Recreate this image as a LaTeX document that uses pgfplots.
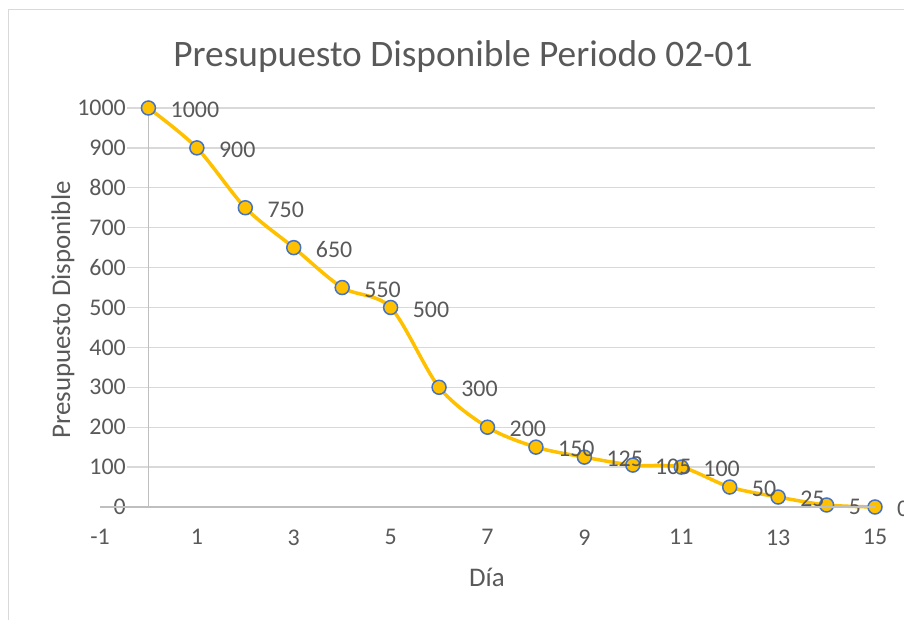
\documentclass[border=0pt]{standalone}
\usepackage{pgfplots}
\pgfplotsset{compat=1.18}
\usepackage{fontspec}
\setmainfont{Carlito}
\definecolor{txt}{HTML}{595959}
\definecolor{gridc}{HTML}{D9D9D9}
\definecolor{axc}{HTML}{BFBFBF}
\definecolor{gold}{HTML}{FFC000}
\definecolor{mblue}{HTML}{4472C4}
\definecolor{framec}{HTML}{D9D9D9}
\pgfplotstableread{
x y
0 1000
1 900
2 750
3 650
4 550
5 500
6 300
7 200
8 150
9 125
10 105
11 100
12 50
13 25
14 5
15 0
}\budget
\begin{document}
\begin{tikzpicture}[x=1bp,y=1bp]
\path[use as bounding box] (0,0) rectangle (904,620);
\draw[framec, line width=1.5bp] (8.5,0) -- (8.5,610.5) -- (904,610.5);
\node[font=\fontsize{37.5}{37.5}\selectfont, text=txt] at (463,563.5) {Presupuesto Disponible Periodo 02-01};
\node[font=\fontsize{27}{27}\selectfont, text=txt, rotate=90] at (63,310) {Presupuesto Disponible};
\node[font=\fontsize{27}{27}\selectfont, text=txt] at (487,43) {Día};
\begin{axis}[at={(100bp,113bp)}, anchor=south west, scale only axis,
  width=775bp, height=399bp,
  xmin=-1, xmax=15, ymin=0, ymax=1000,
  xtick={-1,1,...,15}, ytick={0,100,...,1000},
  ymajorgrids, major grid style={gridc, line width=1.3bp},
  axis line style={draw=none}, tick style={draw=none},
  /pgf/number format/assume math mode=true,
  /pgf/number format/1000 sep={},
  tick label style={font=\fontsize{24}{24}\selectfont, text=txt},
  yticklabel style={anchor=east, fill=white, inner sep=1bp, xshift=27bp},
  xticklabel style={yshift=-19bp},
  clip=false,
]
\draw[axc, line width=1.5bp] (axis cs:0,0) -- (axis cs:0,1000);
\addplot[gold, line width=3.5bp, smooth, mark=*, mark size=7bp,
  mark options={fill=gold, draw=mblue, line width=1.5bp}]
  table[x=x, y=y] {\budget};
\addplot[draw=none, mark=none,
  nodes near coords,
  every node near coord/.append style={font=\fontsize{24}{24}\selectfont, text=txt, anchor=west, inner sep=0pt, xshift=22bp, yshift=-2bp},
  /pgf/number format/assume math mode=true,
  /pgf/number format/1000 sep={},
] table[x=x, y=y] {\budget};
\end{axis}
\draw[axc, line width=1.5bp] (100,113) -- (875,113);
\end{tikzpicture}
\end{document}
